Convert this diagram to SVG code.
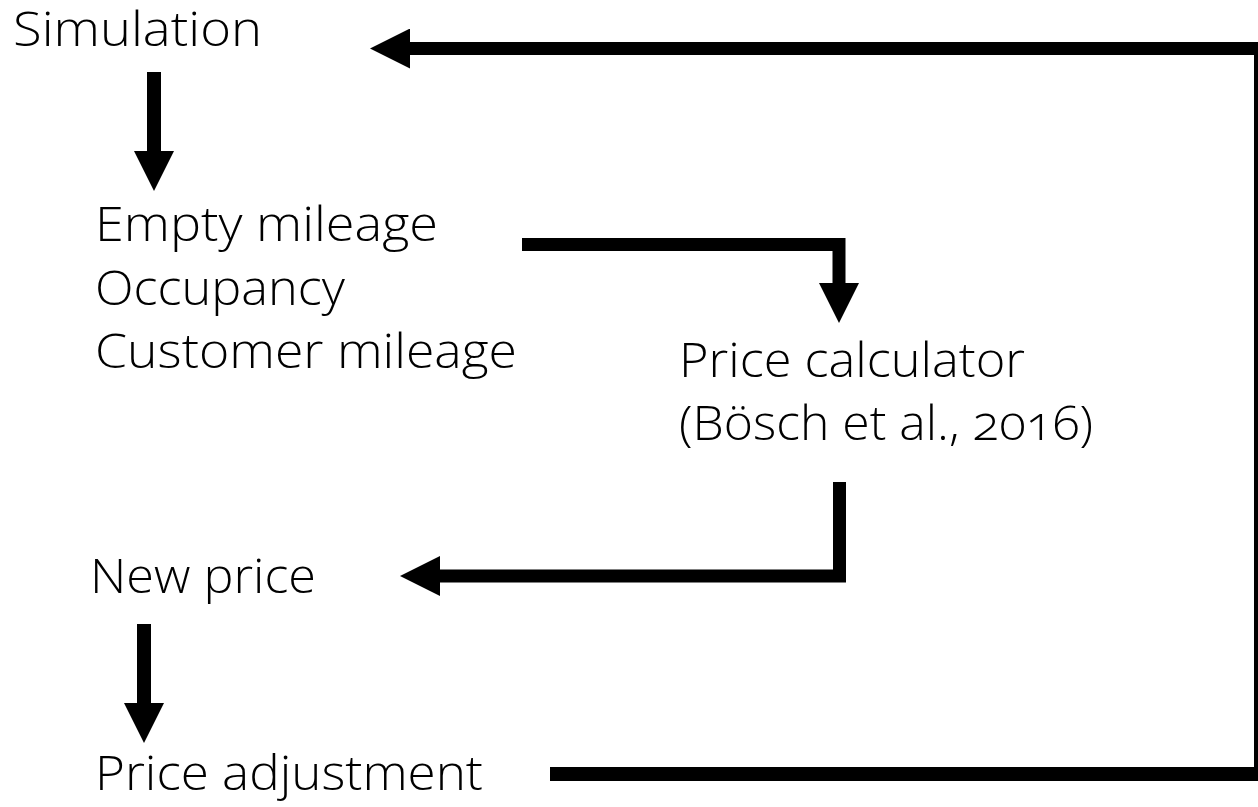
<svg xmlns="http://www.w3.org/2000/svg" width="1258" height="807" viewBox="0 0 1258 807">
<style>
.lbl{font-family:"Open Sans","Noto Sans","Liberation Sans",sans-serif;font-size:47px;font-weight:350;fill:#000;font-variant-numeric:oldstyle-nums;}
.con{fill:none;stroke:#000;stroke-linejoin:miter;}
</style>
<defs>
<marker id="ah" viewBox="0 0 40 40" refX="0" refY="20" markerWidth="40" markerHeight="40" markerUnits="userSpaceOnUse" orient="auto">
<path d="M0,0 L40,20 L0,40 Z" fill="#000"/>
</marker>
</defs>
<rect width="1258" height="807" fill="#fff"/>
<g id="connectors">
<path class="con" stroke-width="13" d="M1258,48.5 H410" marker-end="url(#ah)"/>
<rect x="1254" y="42" width="4" height="739" fill="#000"/>
<path class="con" stroke-width="14" d="M550,774 H1258"/>
<path class="con" stroke-width="14" d="M154,72 V151" marker-end="url(#ah)"/>
<path class="con" stroke-width="13" d="M522,244.5 H839 V283" marker-end="url(#ah)"/>
<path class="con" stroke-width="13" d="M839.5,482 V576 H440" marker-end="url(#ah)"/>
<path class="con" stroke-width="14" d="M144,624 V703" marker-end="url(#ah)"/>
</g>
<g id="simulation"><text class="lbl" x="13" y="46" textLength="249" lengthAdjust="spacingAndGlyphs">Simulation</text></g>
<g id="metrics">
<text class="lbl" x="95" y="241" textLength="343" lengthAdjust="spacingAndGlyphs">Empty mileage</text>
<text class="lbl" x="95" y="305" textLength="250" lengthAdjust="spacingAndGlyphs">Occupancy</text>
<text class="lbl" x="95" y="368" textLength="422" lengthAdjust="spacingAndGlyphs">Customer mileage</text>
</g>
<g id="price-calculator">
<text class="lbl" x="679" y="377" textLength="346" lengthAdjust="spacingAndGlyphs">Price calculator</text>
<text class="lbl" x="679" y="440" textLength="414" lengthAdjust="spacingAndGlyphs">(Bösch et al., 2016)</text>
</g>
<g id="new-price"><text class="lbl" x="90" y="593" textLength="226" lengthAdjust="spacingAndGlyphs">New price</text></g>
<g id="price-adjustment"><text class="lbl" x="95" y="790" textLength="388" lengthAdjust="spacingAndGlyphs">Price adjustment</text></g>
</svg>
